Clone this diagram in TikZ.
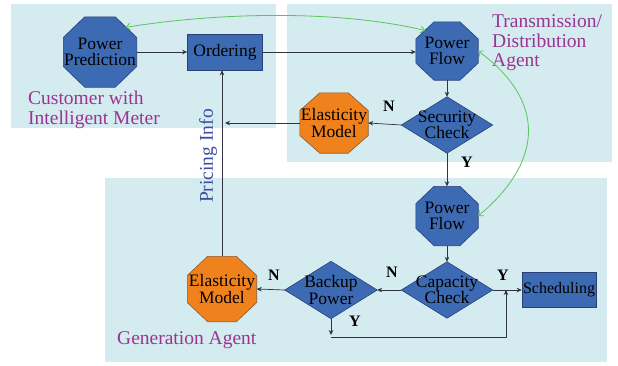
\documentclass[tikz,border=0pt]{standalone}
\usepackage{fontspec}
\setmainfont{Liberation Serif}
\usetikzlibrary{arrows.meta,calc,backgrounds}
\definecolor{panel}{HTML}{D4EBF0}
\definecolor{nblue}{HTML}{3D6BB3}
\definecolor{nblueD}{HTML}{2A3F78}
\definecolor{norange}{HTML}{F0821E}
\definecolor{norangeD}{HTML}{8A5A30}
\definecolor{lpurple}{HTML}{9A3592}
\definecolor{tblue}{HTML}{3B4EA3}
\definecolor{lgreen}{HTML}{5CC45C}
\definecolor{lineC}{HTML}{2F3440}
\newcommand\octfill[2]{%
 \path[#2] ($(#1.north west)!0.293!(#1.north east)$) -- ($(#1.north west)!0.707!(#1.north east)$)
 -- ($(#1.north east)!0.293!(#1.south east)$) -- ($(#1.north east)!0.707!(#1.south east)$)
 -- ($(#1.south east)!0.293!(#1.south west)$) -- ($(#1.south east)!0.707!(#1.south west)$)
 -- ($(#1.south west)!0.293!(#1.north west)$) -- ($(#1.south west)!0.707!(#1.north west)$) -- cycle;}
\newcommand\diafill[2]{%
 \path[#2] (#1.north) -- (#1.east) -- (#1.south) -- (#1.west) -- cycle;}
\tikzset{
 ntext/.style={rectangle, font=\fontsize{17.5}{16.5}\selectfont, align=center, inner sep=0pt, text=black},
 box/.style={rectangle, draw=nblueD, fill=nblue, line width=0.6pt, inner sep=0pt, font=\fontsize{17.5}{16.5}\selectfont},
 boct/.style={fill=nblue, draw=nblueD, line width=0.6pt},
 ooct/.style={fill=norange, draw=norangeD, line width=0.6pt},
 conn/.style={draw=lineC, line width=0.7pt, -{Stealth[length=5pt,width=4.5pt]}},
 gconn/.style={draw=lgreen, line width=0.8pt, {Straight Barb[length=4pt,width=7pt]}-{Straight Barb[length=4pt,width=7pt]}},
 yn/.style={font=\fontsize{16}{16}\selectfont\bfseries, inner sep=0pt},
 agent/.style={font=\fontsize{19.5}{19.5}\selectfont, text=lpurple, align=left, inner sep=0pt},
}
\begin{document}
\begin{tikzpicture}[x=1pt,y=-1pt]
\useasboundingbox (0,0) rectangle (618,365);
% agent labels
\node[agent, anchor=west] (lcust) at (28,110) {Customer with\\Intelligent Meter};
\node[agent, anchor=west] (ltrans) at (492,43) {Transmission/\\Distribution\\Agent};
\node[agent, anchor=west] (lgen) at (117,340) {Generation Agent};
% shaped nodes (text carriers)
\node[ntext, minimum width=73pt, minimum height=70pt] (pp) at (100,52) {Power\\Prediction};
\node[ntext, minimum width=62pt, minimum height=58pt] (pf1) at (447,51) {Power\\Flow};
\node[ntext, minimum width=68pt, minimum height=60pt] (em1) at (334,123) {Elasticity\\Model};
\node[ntext, minimum width=62pt, minimum height=59pt] (pf2) at (447,216) {Power\\Flow};
\node[ntext, minimum width=69pt, minimum height=65pt] (em2) at (222,289) {Elasticity\\Model};
\node[ntext, minimum width=91pt, minimum height=56pt] (sc) at (447,125) {Security\\Check};
\node[ntext, minimum width=91pt, minimum height=56pt] (cc) at (447,290) {Capacity\\Check};
\node[ntext, minimum width=92pt, minimum height=57pt] (bp) at (331,290) {Backup\\Power};
% boxes
\node[box, minimum width=75pt, minimum height=36pt] (ord) at (225,52) {Ordering};
\node[box, minimum width=74pt, minimum height=35pt, font=\fontsize{16}{15}\selectfont] (sch) at (559,290) {Scheduling};
% backgrounds: panels and shapes
\begin{pgfonlayer}{background}
\fill[white] (0,0) rectangle (618,365);
\fill[panel] (11,4) rectangle (276,128);
\fill[panel] (287,4) rectangle (612,162);
\fill[panel] (105,178) rectangle (607,362);
\octfill{pp}{boct}
\octfill{pf1}{boct}
\octfill{em1}{ooct}
\octfill{pf2}{boct}
\octfill{em2}{ooct}
\diafill{sc}{boct}
\diafill{cc}{boct}
\diafill{bp}{boct}
\end{pgfonlayer}
% connectors
\draw[conn] (pp.east) -- (ord.west);
\draw[conn] (ord.east) -- (ord.east -| pf1.west);
\draw[conn] (pf1.south) -- (sc.north);
\draw[conn] (sc.west) -- (em1.east);
\coordinate (j1) at (em1.west -| ord.south);
\draw[conn] (em1.west) -- (j1);
\draw[conn] (em2.north) -- (em2.north |- ord.south);
\draw[conn] (sc.south) -- (pf2.north);
\draw[conn] (pf2.south) -- (cc.north);
\draw[conn] (cc.east) -- (sch.west);
\draw[conn] (cc.west) -- (bp.east);
\draw[conn] (bp.west) -- (em2.east);
\coordinate (b1) at (331,335);
\coordinate (b2) at (331,337);
\coordinate (b3) at (506,337);
\coordinate (b4) at (506,290);
\draw[conn] (bp.south) -- (b1);
\draw[conn] (b2) -- (b3) -- (b4);
% Y/N labels
\node[yn] (n1) at (389,106) {N};
\node[yn] (y1) at (467,162) {Y};
\node[yn] (n2) at (392,272) {N};
\node[yn] (y2) at (503,275) {Y};
\node[yn] (n3) at (274,275) {N};
\node[yn] (y3) at (355,321) {Y};
% pricing info
\node[rotate=90, text=tblue, font=\fontsize{19.5}{19.5}\selectfont, inner sep=0pt] (pinfo) at (208,156) {Pricing Info};
% green curves
\draw[gconn] ($(pp.north east)!0.3!(pp.center)$) .. controls (220,12) and (340,10) .. ($(pf1.north west)!0.3!(pf1.center)$);
\draw[gconn] (pf1.east) .. controls (545,100) and (545,160) .. (pf2.east);
\end{tikzpicture}
\end{document}
